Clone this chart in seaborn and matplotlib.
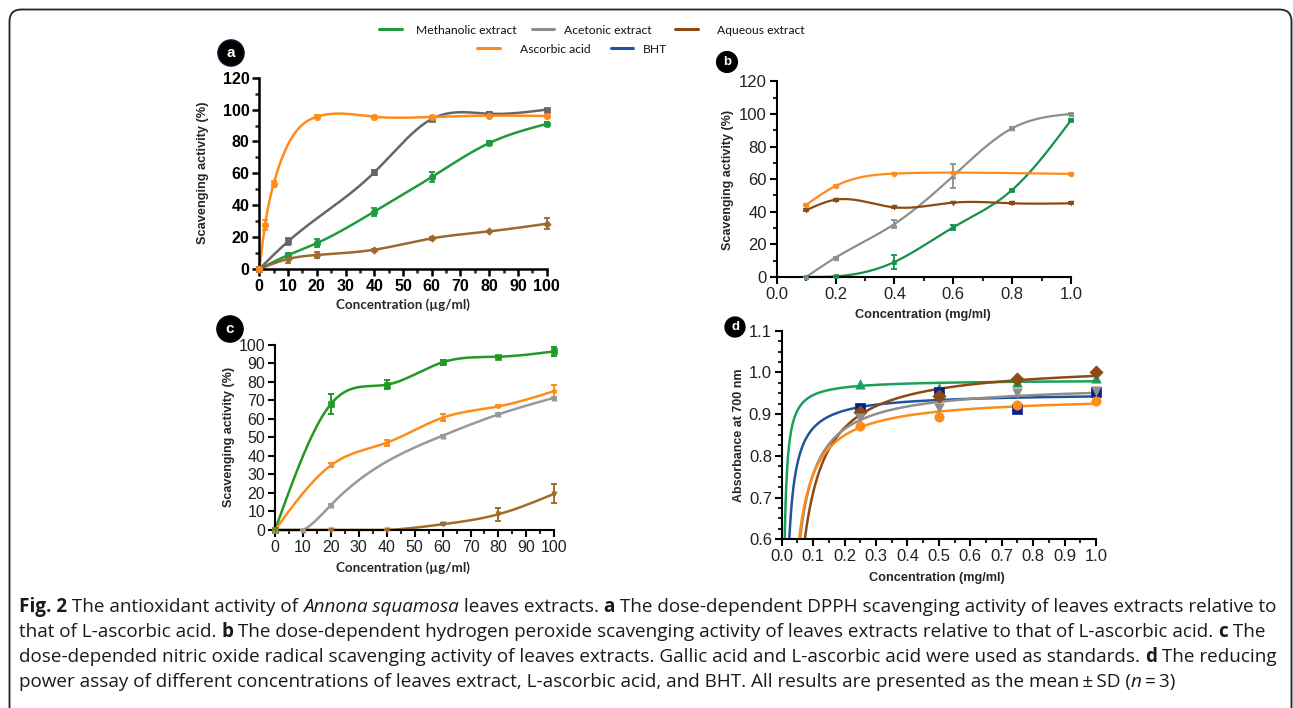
import numpy as np
import pandas as pd
import seaborn as sns
import matplotlib
matplotlib.use("Agg")
import matplotlib.pyplot as plt
from matplotlib.patches import FancyBboxPatch
from matplotlib.lines import Line2D
from matplotlib.transforms import IdentityTransform
from matplotlib.ticker import MultipleLocator

# ---------------- data ----------------
series_names = ["Methanolic extract", "Acetonic extract", "Aqueous extract", "Ascorbic acid", "BHT"]

# Panel a (DPPH)
a_meth_x = [0, 10, 20, 40, 60, 80, 100]
a_meth_y = [0, 8.7, 16.2, 36.0, 57.7, 79.0, 91.0]
a_meth_e = [0, 1.5, 2.5, 2.5, 3.0, 1.0, 1.5]
a_acet_x = [0, 10, 40, 60, 80, 100]
a_acet_y = [0, 17.3, 60.6, 94.1, 97.4, 100.0]
a_acet_e = [0, 2.0, 1.5, 1.0, 1.0, 0.5]
a_aque_x = [0, 10, 20, 40, 60, 80, 100]
a_aque_y = [0, 6.3, 8.8, 12.1, 19.2, 23.6, 28.4]
a_aque_e = [0, 2.5, 2.0, 0.5, 1.0, 0.5, 3.5]
a_asc_x = [0, 2, 5, 20, 40, 60, 80, 100]
a_asc_y = [0, 27.6, 53.5, 95.5, 95.5, 95.4, 96.2, 96.0]
a_asc_e = [0, 3.0, 2.0, 1.0, 0.5, 0.5, 0.5, 0.5]

# Panel b (H2O2)
b_meth_x = [0.1, 0.2, 0.4, 0.6, 0.8, 1.0]
b_meth_y = [0, 0.4, 9.2, 30.5, 53.4, 96.1]
b_meth_e = [0, 0.5, 4.5, 1.5, 0.5, 0.5]
b_acet_x = [0.1, 0.2, 0.4, 0.6, 0.8, 1.0]
b_acet_y = [0, 11.9, 32.5, 62.0, 91.2, 100.0]
b_acet_e = [0, 0.5, 2.5, 7.5, 0.5, 0.5]
b_aque_x = [0.1, 0.2, 0.4, 0.6, 0.8, 1.0]
b_aque_y = [40.9, 47.4, 42.7, 45.6, 45.2, 45.2]
b_aque_e = [0.5, 0.5, 0.5, 0.5, 0.5, 0.5]
b_asc_x = [0.1, 0.2, 0.4, 0.6, 1.0]
b_asc_y = [44.2, 55.8, 63.4, 64.0, 63.2]
b_asc_e = [0.5, 0.5, 0.5, 0.5, 0.5]

# Panel c (nitric oxide)
c_meth_x = [0, 20, 40, 60, 80, 100]
c_meth_y = [0, 68.0, 78.4, 90.5, 93.5, 96.4]
c_meth_e = [0, 5.5, 2.5, 1.5, 0.5, 2.5]
c_acet_x = [0, 10, 20, 60, 80, 100]
c_acet_y = [0, 0, 13.5, 50.9, 62.4, 71.4]
c_acet_e = [0, 0, 0.5, 0.5, 0.5, 0.5]
c_aque_x = [0, 20, 40, 60, 80, 100]
c_aque_y = [0, 0, 0, 3.1, 8.5, 19.6]
c_aque_e = [0, 0, 0, 0.5, 3.5, 5.0]
c_asc_x = [0, 20, 40, 60, 80, 100]
c_asc_y = [0, 34.9, 47.1, 60.6, 66.7, 75.0]
c_asc_e = [0, 1.0, 1.5, 2.0, 0.5, 3.0]

# Panel d (reducing power)
d_x = [0.25, 0.5, 0.75, 1.0]
d_meth_y = [0.972, 0.962, 0.978, 0.987]
d_acet_y = [0.890, 0.915, 0.950, 0.955]
d_aque_y = [0.904, 0.943, 0.984, 1.001]
d_asc_y = [0.872, 0.894, 0.921, 0.931]
d_bht_y = [0.914, 0.952, 0.913, 0.954]

# tick labels
a_xticks = [0, 10, 20, 30, 40, 50, 60, 70, 80, 90, 100]
a_yticks = [0, 20, 40, 60, 80, 100, 120]
b_xticks = [0.0, 0.2, 0.4, 0.6, 0.8, 1.0]
b_yticks = [0, 20, 40, 60, 80, 100, 120]
c_xticks = [0, 10, 20, 30, 40, 50, 60, 70, 80, 90, 100]
c_yticks = [0, 10, 20, 30, 40, 50, 60, 70, 80, 90, 100]
d_xticks = [0.0, 0.1, 0.2, 0.3, 0.4, 0.5, 0.6, 0.7, 0.8, 0.9, 1.0]
d_yticks = [0.6, 0.7, 0.8, 0.9, 1.0, 1.1]

caption_lines = [
    [("Fig. 2", "bold", "normal"), (" The antioxidant activity of ", "normal", "normal"),
     ("Annona squamosa", "normal", "italic"), (" leaves extracts. ", "normal", "normal"),
     ("a", "bold", "normal"),
     (" The dose-dependent DPPH scavenging activity of leaves extracts relative to", "normal", "normal")],
    [("that of L-ascorbic acid. ", "normal", "normal"), ("b", "bold", "normal"),
     (" The dose-dependent hydrogen peroxide scavenging activity of leaves extracts relative to that of L-ascorbic acid. ", "normal", "normal"),
     ("c", "bold", "normal"), (" The", "normal", "normal")],
    [("dose-depended nitric oxide radical scavenging activity of leaves extracts. Gallic acid and L-ascorbic acid were used as standards. ", "normal", "normal"),
     ("d", "bold", "normal"), (" The reducing", "normal", "normal")],
    [("power assay of different concentrations of leaves extract, L-ascorbic acid, and BHT. All results are presented as the mean\u2009\u00b1\u2009SD (", "normal", "normal"),
     ("n", "normal", "italic"), ("\u2009=\u20093)", "normal", "normal")],
]

# ---------------- style ----------------
sns.set_theme(style="ticks")
plt.rcParams["font.family"] = ["Liberation Sans", "DejaVu Sans"]

W, H = 1293, 708
fig = plt.figure(figsize=(W / 100, H / 100), dpi=100)
fig.patch.set_facecolor("white")

GREEN = "#1f9a3c"
GREEN_B = "#16904a"
GREEN_D = "#1aa05a"
GRAY_A = "#666666"
GRAY = "#8e8e8e"
BROWN_A = "#9c6a2e"
BROWN = "#8b4a14"
ORANGE = "#ff8c1a"
BLUE = "#1f55a0"
NAVY = "#0a1f8f"


def natural_spline(x, y, n=400):
    x = np.asarray(x, float)
    y = np.asarray(y, float)
    m = len(x)
    h = np.diff(x)
    A = np.zeros((m, m))
    r = np.zeros(m)
    A[0, 0] = 1
    A[-1, -1] = 1
    for i in range(1, m - 1):
        A[i, i - 1] = h[i - 1]
        A[i, i] = 2 * (h[i - 1] + h[i])
        A[i, i + 1] = h[i]
        r[i] = 6 * ((y[i + 1] - y[i]) / h[i] - (y[i] - y[i - 1]) / h[i - 1])
    M = np.linalg.solve(A, r)
    xs = np.linspace(x[0], x[-1], n)
    idx = np.clip(np.searchsorted(x, xs) - 1, 0, m - 2)
    x0, x1 = x[idx], x[idx + 1]
    hh = x1 - x0
    t0 = x1 - xs
    t1 = xs - x0
    ys = (M[idx] * t0 ** 3 + M[idx + 1] * t1 ** 3) / (6 * hh) \
        + (y[idx] / hh - M[idx] * hh / 6) * t0 + (y[idx + 1] / hh - M[idx + 1] * hh / 6) * t1
    return xs, ys


def make_ax(x0, x1, yb, yt):
    return fig.add_axes([x0 / W, 1 - yb / H, (x1 - x0) / W, (yb - yt) / H])


def style_ax(ax, lw, labelsize, bold=False, color="black"):
    sns.despine(ax=ax)
    for s in ["left", "bottom"]:
        ax.spines[s].set_linewidth(lw)
        ax.spines[s].set_color("black")
    ax.tick_params(which="major", direction="out", length=5, width=lw, labelsize=labelsize,
                   pad=2, colors="black", labelcolor=color)
    ax.tick_params(which="minor", direction="out", length=3, width=lw)
    ax.set_facecolor("none")
    if bold:
        for lbl in ax.get_xticklabels() + ax.get_yticklabels():
            lbl.set_fontweight("bold")


def draw_series(ax, x, y, e, color, marker, msize, lw, ew, cap):
    xs, ys = natural_spline(x, y)
    ys = np.maximum(ys, 0)
    ax.plot(xs, ys, color=color, lw=lw, clip_on=False, zorder=2, solid_capstyle="round")
    ax.errorbar(x, y, yerr=e, fmt="none", ecolor=color, elinewidth=ew, capsize=cap,
                capthick=ew, clip_on=False, zorder=3)
    df = pd.DataFrame({"x": x, "y": y})
    sns.scatterplot(data=df, x="x", y="y", ax=ax, color=color, marker=marker, s=msize,
                    edgecolor=color, linewidth=0.5, clip_on=False, zorder=4, legend=False)


# ---------------- Panel a ----------------
axa = make_ax(259.3, 546.7, 269, 77.7)
draw_series(axa, a_meth_x, a_meth_y, a_meth_e, GREEN, "o", 22, 1.8, 1.3, 2.5)
draw_series(axa, a_acet_x, a_acet_y, a_acet_e, GRAY_A, "s", 20, 1.8, 1.3, 2.5)
draw_series(axa, a_aque_x, a_aque_y, a_aque_e, BROWN_A, "D", 14, 1.8, 1.3, 2.5)
draw_series(axa, a_asc_x, a_asc_y, a_asc_e, ORANGE, "o", 22, 1.8, 1.3, 2.5)
axa.set_xlim(0, 100)
axa.set_ylim(0, 120)
axa.set_xticks(a_xticks)
axa.set_xticklabels([str(v) for v in a_xticks])
axa.set_yticks(a_yticks)
axa.set_yticklabels([str(v) for v in a_yticks])
axa.xaxis.set_minor_locator(MultipleLocator(5))
axa.yaxis.set_minor_locator(MultipleLocator(10))
axa.set_xlabel("")
axa.set_ylabel("")
style_ax(axa, 1.8, 11.5, bold=True)

# ---------------- Panel b ----------------
axb = make_ax(776.7, 1071, 277, 81.3)
draw_series(axb, b_meth_x, b_meth_y, b_meth_e, GREEN_B, "s", 12, 1.6, 1.3, 2.5)
draw_series(axb, b_acet_x, b_acet_y, b_acet_e, GRAY, "^", 12, 1.6, 1.3, 2.5)
draw_series(axb, b_aque_x, b_aque_y, b_aque_e, BROWN, "v", 12, 1.6, 1.3, 2.5)
draw_series(axb, b_asc_x, b_asc_y, b_asc_e, ORANGE, "o", 12, 1.6, 1.3, 2.5)
axb.set_xlim(0, 1.0)
axb.set_ylim(0, 120)
axb.set_xticks(b_xticks)
axb.set_xticklabels([f"{v:.1f}" for v in b_xticks])
axb.set_yticks(b_yticks)
axb.set_yticklabels([str(v) for v in b_yticks])
axb.xaxis.set_minor_locator(MultipleLocator(0.1))
axb.yaxis.set_minor_locator(MultipleLocator(10))
axb.set_xlabel("")
axb.set_ylabel("")
style_ax(axb, 1.5, 12, color="#222222")

# ---------------- Panel c ----------------
axc = make_ax(275, 554.3, 530, 344.7)
draw_series(axc, c_meth_x, c_meth_y, c_meth_e, "#229a22", "s", 14, 1.8, 1.4, 2.5)
draw_series(axc, c_asc_x, c_asc_y, c_asc_e, ORANGE, "o", 10, 1.8, 1.4, 2.5)
draw_series(axc, c_acet_x, c_acet_y, c_acet_e, "#999999", "^", 14, 1.8, 1.4, 2.5)
draw_series(axc, c_aque_x, c_aque_y, c_aque_e, "#a06e2a", "v", 14, 1.8, 1.4, 2.5)
axc.set_xlim(0, 100)
axc.set_ylim(0, 100)
axc.set_xticks(c_xticks)
axc.set_xticklabels([str(v) for v in c_xticks])
axc.set_yticks(c_yticks)
axc.set_yticklabels([str(v) for v in c_yticks])
axc.xaxis.set_minor_locator(MultipleLocator(5))
axc.set_xlabel("")
axc.set_ylabel("")
style_ax(axc, 1.5, 11.5, color="#222222")

# ---------------- Panel d ----------------
axd = make_ax(781.7, 1096, 539.3, 330.7)
d_specs = [
    (d_meth_y, GREEN_D, "^", GREEN_D),
    (d_bht_y, BLUE, "s", NAVY),
    (d_aque_y, BROWN, "D", BROWN),
    (d_acet_y, GRAY, "v", GRAY),
    (d_asc_y, ORANGE, "o", ORANGE),
]
xd = np.asarray(d_x, float)
xg = np.linspace(0.002, 1.0, 600)
for yv, col, mk, mcol in d_specs:
    A = np.column_stack([np.ones_like(xd), -1.0 / xd])
    coef, *_ = np.linalg.lstsq(A, np.asarray(yv, float), rcond=None)
    axd.plot(xg, coef[0] - coef[1] / xg, color=col, lw=1.8, zorder=2)
    df = pd.DataFrame({"x": d_x, "y": yv})
    sns.scatterplot(data=df, x="x", y="y", ax=axd, color=mcol, marker=mk, s=45,
                    edgecolor=mcol, linewidth=0.5, clip_on=False, zorder=4, legend=False)
axd.set_xlim(0, 1.0)
axd.set_ylim(0.6, 1.1)
axd.set_xticks(d_xticks)
axd.set_xticklabels([f"{v:.1f}" for v in d_xticks])
axd.set_yticks(d_yticks)
axd.set_yticklabels([f"{v:.1f}" for v in d_yticks])
axd.xaxis.set_minor_locator(MultipleLocator(0.05))
axd.yaxis.set_minor_locator(MultipleLocator(0.025))
axd.set_xlabel("")
axd.set_ylabel("")
style_ax(axd, 1.5, 12, color="#222222")


# ---------------- axis labels ----------------
def ftext(x, y, s, **kw):
    return fig.text(x / W, 1 - y / H, s, **kw)


ftext(203, 173, "Scavenging activity (%)", rotation=90, ha="center", va="center",
      fontsize=9.2, fontweight="bold")
ftext(403, 305, "Concentration (\u00b5g/ml)", ha="center", va="center", fontsize=9.6,
      fontweight="bold", family=["Lato", "DejaVu Sans"])
ftext(728, 180, "Scavenging activity (%)", rotation=90, ha="center", va="center",
      fontsize=9.0, fontweight="bold")
ftext(922.7, 315, "Concentration (mg/ml)", ha="center", va="center", fontsize=9.2,
      fontweight="bold")
ftext(229, 437, "Scavenging activity (%)", rotation=90, ha="center", va="center",
      fontsize=9.0, fontweight="bold")
ftext(403, 568, "Concentration (\u00b5g/ml)", ha="center", va="center", fontsize=9.6,
      fontweight="bold", family=["Lato", "DejaVu Sans"])
ftext(739, 435, "Absorbance at 700 nm", rotation=90, ha="center", va="center",
      fontsize=9.0, fontweight="bold")
ftext(937, 578, "Concentration (mg/ml)", ha="center", va="center", fontsize=9.2,
      fontweight="bold")

# panel letters
for (px, py, letter, fs, pad) in [(231, 53, "a", 11, 0.4), (727, 62, "b", 9.5, 0.33),
                                  (230, 329, "c", 11, 0.4), (735, 327, "d", 9.5, 0.3)]:
    ftext(px, py, letter, ha="center", va="center", fontsize=fs, fontweight="bold",
          color="white", bbox=dict(boxstyle=f"circle,pad={pad}", fc="black",
                                   ec="#101830" if letter == "a" else "black", lw=1))

# ---------------- legend ----------------
leg_items = [
    (series_names[0], GREEN, 379.3, 402.3, 415.7, 30.5),
    (series_names[1], GRAY, 531.7, 554.0, 564.3, 30.5),
    (series_names[2], BROWN, 675.0, 697.7, 716.7, 30.5),
    (series_names[3], ORANGE, 477.3, 500.0, 520.0, 49.5),
    (series_names[4], BLUE, 610.7, 633.3, 643.3, 49.5),
]
for name, col, lx0, lx1, tx, ly in leg_items:
    fig.add_artist(Line2D([lx0 / W, lx1 / W], [1 - (ly - 1.5) / H, 1 - (ly - 1.5) / H],
                          transform=fig.transFigure, color=col, lw=2.2))
    ftext(tx, ly, name, ha="left", va="center", fontsize=8.7, family=["Lato", "DejaVu Sans"],
          color="#111111")

# ---------------- frame ----------------
frame = FancyBboxPatch((9.5, H - 730), 1282, 730 - 9.5, boxstyle="round,pad=0,rounding_size=12",
                       transform=IdentityTransform(), fc="none", ec="#222222", lw=1.3)
fig.add_artist(frame)

# ---------------- caption ----------------
fig.canvas.draw()
renderer = fig.canvas.get_renderer()
cap_x0 = 19
cap_baselines = [612, 637, 662, 687]
for segs, yb in zip(caption_lines, cap_baselines):
    x = cap_x0
    for txt, wt, st in segs:
        t = ftext(x, yb, txt, ha="left", va="baseline", fontsize=13.6, fontweight=wt,
                  fontstyle=st, family=["Open Sans", "DejaVu Sans"], color="#1a1a1a")
        bb = t.get_window_extent(renderer)
        x += bb.width

fig.savefig("out.png", dpi=100, facecolor="white")
